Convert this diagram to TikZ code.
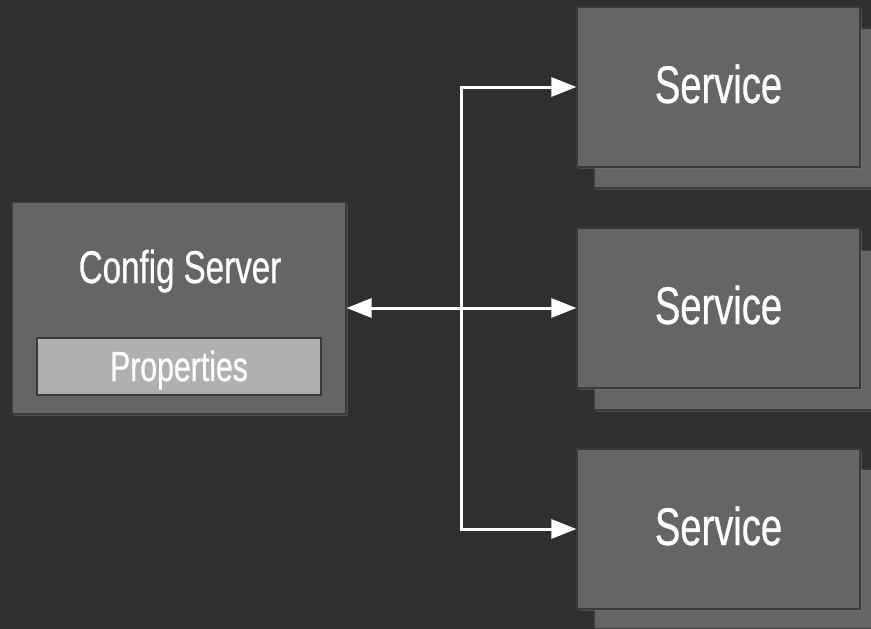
\documentclass[tikz,border=0pt]{standalone}
\usepackage{fontspec}
\setmainfont[FakeStretch=0.72]{Liberation Sans}
\newfontfamily\narrowfont[FakeStretch=0.72,FakeBold=0.6]{Liberation Sans}
\usetikzlibrary{arrows.meta,shadows}
\definecolor{bgc}{HTML}{2F2F2F}
\definecolor{boxc}{HTML}{656565}
\definecolor{edgec}{HTML}{3A3A3A}
\definecolor{propc}{HTML}{B0B0B0}
\tikzset{
  box/.style={draw=edgec, line width=1.2pt, fill=boxc, inner sep=0pt, anchor=center,
    text=white, drop shadow={opacity=0.35, shadow xshift=1.5pt, shadow yshift=-1.5pt}},
  svc/.style={box, minimum width=283pt, minimum height=160pt},
  lbl/.style={text=white, anchor=base, inner sep=0pt},
  svct/.style={lbl, font=\narrowfont\fontsize{53}{60}\selectfont},
  propbox/.style={draw=edgec, line width=1.5pt, fill=propc, inner sep=0pt,
    minimum width=284pt, minimum height=57pt},
  arr/.style={draw=white, line width=3pt, -{Triangle[length=25pt,width=19pt]}},
  darr/.style={draw=white, line width=3pt, {Triangle[length=25pt,width=19pt]}-{Triangle[length=25pt,width=19pt]}}
}
\begin{document}
\begin{tikzpicture}[x=1pt,y=-1pt]
\useasboundingbox (0,0) rectangle (871,629);
\clip (0,0) rectangle (871,629);
\fill[bgc] (0,0) rectangle (871,629);
% back service boxes
\node[svc] (b1) at (735.5,108) {};
\node[svc] (b2) at (735.5,330) {};
\node[svc] (b3) at (735.5,549) {};
% front service boxes
\node[svc] (s1) at (718.5,87) {};
\node[svc] (s2) at (718.5,308) {};
\node[svc] (s3) at (718.5,529) {};
\node[svct] (s1t) at (718.5,103) {Service};
\node[svct] (s2t) at (718.5,324) {Service};
\node[svct] (s3t) at (718.5,545) {Service};
% config server
\node[box, minimum width=334pt, minimum height=212pt] (cfg) at (179,308) {};
\node[lbl, font=\narrowfont\fontsize{46}{52}\selectfont] (cfgt) at (180,283) {Config Server};
\node[propbox] (prop) at (179,366.5) {};
\node[lbl, font=\narrowfont\fontsize{42}{48}\selectfont] (propt) at (179,381) {Properties};
% connectors
\coordinate (j) at (461.5,308);
\draw[darr] (cfg.east) -- (s2.west);
\draw[arr] (j) |- (s1.west);
\draw[arr] (j) |- (s3.west);
\end{tikzpicture}
\end{document}
